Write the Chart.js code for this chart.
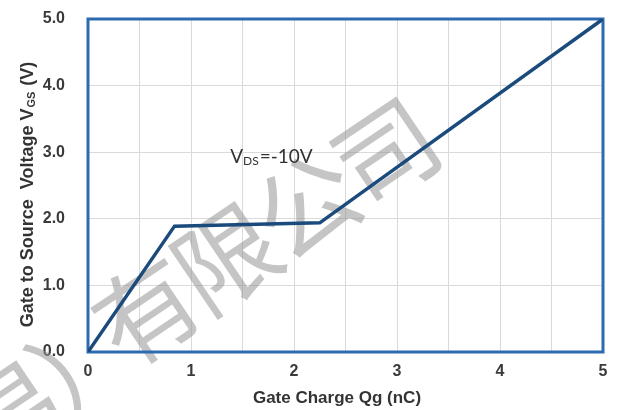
<!DOCTYPE html>
<html><head><meta charset="utf-8">
<script src="https://cdn.jsdelivr.net/npm/chart.js@4.4.1/dist/chart.umd.min.js"></script>
<style>html,body{margin:0;padding:0;background:#fff}#wrap{width:624px;height:410px}</style>
</head><body><div id="wrap"><canvas id="c" width="624" height="410"></canvas></div>
<script>
// ---- data ----
const gateCharge = [0, 0.84, 2.25, 5];          // Qg (nC)
const gateVoltage = [0, 1.89, 1.94, 5];         // VGS (V)
const xTickLabels = ['0', '1', '2', '3', '4', '5'];
const yTickLabels = ['0.0', '1.0', '2.0', '3.0', '4.0', '5.0'];
const xTitle = 'Gate Charge Qg (nC)';
const yTitleParts = ['Gate to Source  Voltage V', 'GS', ' (V)'];
const noteParts = ['V', 'DS', '=-10V'];
const notePoint = [1.38, 2.84];                  // data coords of annotation baseline start
const watermarkChars = ['易', '）', '有', '限', '公', '司'];

const FONT = "'Liberation Sans', Arial, sans-serif";

const decor = {
  id: 'decor',
  beforeDatasetsDraw(chart) {
    const ctx = chart.ctx, a = chart.chartArea;
    // watermark
    const centers = [[12, 414], [86, 362], [146, 311], [226, 258], [306, 205], [386, 152]];
    ctx.save();
    ctx.fillStyle = 'rgba(150,150,150,0.55)';
    ctx.font = "400 102px 'Noto Sans CJK SC'";
    ctx.textAlign = 'center';
    ctx.textBaseline = 'middle';
    watermarkChars.forEach((ch, i) => {
      ctx.save();
      ctx.translate(centers[i][0], centers[i][1]);
      ctx.rotate(-34 * Math.PI / 180);
      ctx.fillText(ch, 0, 0);
      ctx.restore();
    });
    ctx.restore();
    // plot frame
    ctx.save();
    ctx.strokeStyle = '#2d6bb0';
    ctx.lineWidth = 3;
    ctx.strokeRect(a.left, a.top, a.right - a.left, a.bottom - a.top);
    ctx.restore();
  },
  afterDraw(chart) {
    const ctx = chart.ctx;
    const xs = chart.scales.x, ys = chart.scales.y;
    ctx.save();
    ctx.fillStyle = '#333';
    // x title
    ctx.font = `bold 17px ${FONT}`;
    ctx.textAlign = 'center';
    ctx.textBaseline = 'middle';
    ctx.fillText(xTitle, 337, 398);
    // y title (rotated, with subscript)
    const big = `bold 18px ${FONT}`, small = `bold 11px ${FONT}`;
    ctx.font = big; const w0 = ctx.measureText(yTitleParts[0]).width;
    const w2 = ctx.measureText(yTitleParts[2]).width;
    ctx.font = small; const w1 = ctx.measureText(yTitleParts[1]).width + 1;
    const total = w0 + w1 + w2;
    ctx.translate(27, 195);
    ctx.rotate(-Math.PI / 2);
    ctx.textAlign = 'left';
    ctx.textBaseline = 'alphabetic';
    let x = -total / 2;
    ctx.font = big; ctx.fillText(yTitleParts[0], x, 6); x += w0 + 1;
    ctx.font = small; ctx.fillText(yTitleParts[1], x, 8); x += w1;
    ctx.font = big; ctx.fillText(yTitleParts[2], x, 6);
    ctx.restore();
    // annotation
    ctx.save();
    ctx.fillStyle = '#333';
    ctx.textAlign = 'left';
    ctx.textBaseline = 'alphabetic';
    let px = xs.getPixelForValue(notePoint[0]);
    const py = ys.getPixelForValue(notePoint[1]);
    ctx.font = "19px Lato";
    ctx.fillText(noteParts[0], px, py); px += ctx.measureText(noteParts[0]).width;
    ctx.font = "12px Lato";
    ctx.fillText(noteParts[1], px, py + 2); px += ctx.measureText(noteParts[1]).width + 1;
    ctx.font = "19px Lato";
    ctx.fillText(noteParts[2], px, py);
    ctx.restore();
  }
};

new Chart(document.getElementById('c'), {
  type: 'line',
  data: {
    datasets: [{
      data: gateCharge.map((q, i) => ({ x: q, y: gateVoltage[i] })),
      borderColor: '#1b4a7c',
      borderWidth: 3.5,
      pointRadius: 0,
      tension: 0,
      fill: false
    }]
  },
  options: {
    responsive: false,
    animation: false,
    devicePixelRatio: 1,
    layout: { padding: { left: 0, right: 21, top: 19, bottom: 0 } },
    plugins: { legend: { display: false }, tooltip: { enabled: false } },
    scales: {
      x: {
        type: 'linear', min: 0, max: 5,
        afterFit(s) { s.height = 58; s.paddingLeft = 0; s.paddingRight = 0; },
        ticks: {
          stepSize: 0.5, autoSkip: false, maxRotation: 0, padding: 10,
          color: '#3a3a3a', font: { family: FONT, size: 16, weight: 'bold' },
          callback: v => Number.isInteger(v) ? xTickLabels[v] : ''
        },
        grid: { color: '#dadada', lineWidth: 1, drawTicks: false, tickLength: 0 },
        border: { display: false }
      },
      y: {
        type: 'linear', min: 0, max: 5,
        afterFit(s) { s.width = 88; s.paddingTop = 0; s.paddingBottom = 0; },
        ticks: {
          stepSize: 1, padding: 23,
          color: '#3a3a3a', font: { family: FONT, size: 16, weight: 'bold' },
          callback: v => yTickLabels[Math.round(v)]
        },
        grid: { color: '#dadada', lineWidth: 1, drawTicks: false, tickLength: 0 },
        border: { display: false }
      }
    }
  },
  plugins: [decor]
});
</script></body></html>
